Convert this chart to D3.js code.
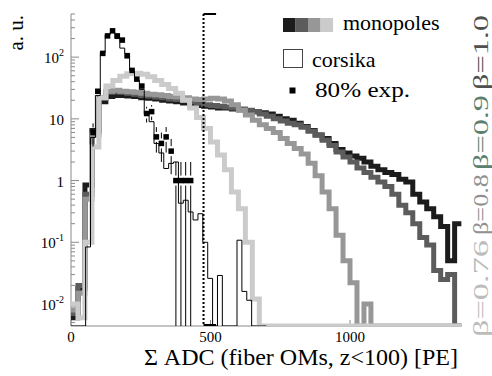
<!DOCTYPE html>
<html>
<head>
<meta charset="utf-8">
<script src="https://cdnjs.cloudflare.com/ajax/libs/d3/7.8.5/d3.min.js"></script>
</head>
<body style="margin:0">
<svg id="chart" width="492" height="376"></svg>
<script>
// monopole histograms, 25 ADC bins from 0 to 1400
var monoBinWidth = 25;
var beta100 = [0.006, 0.018, 0.85, 6.5, 19, 23, 24, 24, 23.5, 23,
  22, 21.5, 21, 20, 19.5, 19, 18, 17.5, 16.5, 16,
  15.5, 15, 15, 14.5, 14, 13.5, 13, 12.5, 12, 11,
  10, 9.5, 8.5, 7.5, 6.5, 5.5, 4.8, 4, 3.2, 2.8,
  2.5, 2.3, 2.0, 1.7, 1.5, 1.35, 1.25, 1.05, 0.95, 0.6,
  0.45, 0.35, 0.26, 0.18, 0.05, 0.2];
var beta090 = [0.007, 0.02, 0.6, 6, 22, 27, 27.5, 27, 26, 25,
  24, 23.5, 22.5, 22, 21, 20.5, 20, 19, 18, 17,
  16.5, 16, 15.5, 15, 14.5, 13.8, 13, 12, 11, 10,
  9.2, 8.5, 8, 7.3, 6.3, 5.5, 4.5, 3.7, 2.9, 2.4,
  2.0, 1.6, 1.35, 1.13, 0.95, 0.8, 0.6, 0.4, 0.3, 0.2,
  0.12, 0.09, 0.035, 0.025, 0.03, 0];
var beta080 = [0.008, 0.015, 0.5, 5.5, 22, 28, 29, 28, 27.5, 27,
  26, 25, 24.5, 24, 23, 22.5, 22, 21, 20.5, 21,
  21.5, 21, 19.5, 17, 13.8, 11.5, 9.5, 8, 7, 6,
  4.8, 4, 3.3, 2.7, 1.9, 1.2, 0.65, 0.35, 0.13, 0.05,
  0.022, 0.004, 0.01, 0, 0, 0, 0, 0, 0, 0,
  0, 0, 0, 0, 0, 0];
var beta076 = [0.01, 0.006, 0.1, 3.5, 22, 34, 42, 49, 54, 55,
  53, 48, 42, 36, 31, 26, 20, 15, 10.5, 7,
  4.2, 2.6, 1.5, 0.65, 0.35, 0.1, 0.012, 0, 0, 0,
  0, 0, 0, 0, 0, 0, 0, 0, 0, 0,
  0, 0, 0, 0, 0, 0, 0, 0, 0, 0,
  0, 0, 0, 0, 0, 0];

// corsika simulation and 80% of experimental data, 17.5 ADC bins
var expBinWidth = 17.5;
var corsika = [0, 0, 0, 0.084, 5, 24, 120, 230, 250, 200,
  140, 115, 60, 42, 30, 12, 9, 4, 2.8, 1.57,
  1.9, 2.0, 0.43, 0.48, 0.31, 0.23, 0.29, 0.10, 0.026, 0,
  0.029, 0, 0, 0, 0.108, 0.016, 0.0115, 0, 0, 0];
var expAdc = [79, 96, 114, 131, 149, 166, 184, 201, 219, 236,
  254, 271, 289, 306, 324, 341, 359, 376, 394, 411, 429];
var expVal = [6.0, 28, 115, 221, 267, 221, 189, 105, 61, 44,
  34, 12.2, 13.1, 5.1, 4.0, 5.1, 3.0, 1, 1, 1, 1];

var cutAdc = 475;

var monoSeries = [beta100, beta090, beta080, beta076];
var monoColors = ["#1c1c1c", "#5c5c5c", "#979797", "#cbcbcb"];
var betaLabels = ["\u03b2=1.0", "\u03b2=0.9", "\u03b2=0.8", "\u03b2=0.76"];
var betaLabelColors = ["#505050", "#5b8070", "#909090", "#bcbcbc"];

var xTickValues = [0, 500, 1000];
var yTickValues = [0.01, 0.1, 1, 10, 100];
var yTickBase = ["10", "10", "1", "10", "10"];
var yTickExp = ["-2", "-1", "", "", "2"];

var serifFont = "'Liberation Serif', serif";

var drawChart = function() {

  var svg = d3.select("#chart");

  var frameLeft = 71, frameRight = 461.6, frameTop = 14, frameBottom = 326;

  var x = d3.scaleLinear().domain([0, 1400]).range([frameLeft, frameRight]);
  var y = d3.scaleLog().domain([0.0044, 500]).range([frameBottom, frameTop]);

  var yc = function(v) {
    // empty bins sit on the bottom of the frame, as ROOT draws them on log axes
    return y(Math.max(v, y.domain()[0]));
  };

  var addText = function(parent) {
    return parent.append("text").style("font-family", serifFont);
  };

  svg.append("clipPath").attr("id", "frame")
    .append("rect")
    .attr("x", frameLeft).attr("y", frameTop)
    .attr("width", frameRight - frameLeft).attr("height", frameBottom - frameTop);

  // axes, ticks only (labels are written by hand below)
  var axisColor = "#8a8a8a";
  var ticks = svg.append("g").attr("stroke", axisColor).attr("fill", "none");

  ticks.append("line")
    .attr("x1", frameLeft).attr("x2", frameLeft)
    .attr("y1", frameTop).attr("y2", frameBottom);
  ticks.append("line")
    .attr("x1", frameLeft).attr("x2", frameRight)
    .attr("y1", frameBottom).attr("y2", frameBottom);

  ticks.selectAll("line.ytick")
    .data(y.ticks())
    .enter().append("line")
    .attr("class", "ytick")
    .attr("x1", frameLeft)
    .attr("x2", function(d) { return frameLeft + (yTickValues.indexOf(d) < 0 ? 4 : 8); })
    .attr("y1", function(d) { return y(d); })
    .attr("y2", function(d) { return y(d); });

  ticks.selectAll("line.xtick")
    .data(xTickValues)
    .enter().append("line")
    .attr("class", "xtick")
    .attr("x1", function(d) { return x(d); })
    .attr("x2", function(d) { return x(d); })
    .attr("y1", frameBottom)
    .attr("y2", frameBottom - 6);

  // y tick labels 10^n
  yTickValues.forEach(function(d, i) {
    var t = addText(svg)
      .attr("x", 64)
      .attr("y", y(d) + 6)
      .attr("text-anchor", "end")
      .attr("font-size", 15);
    t.append("tspan").text(yTickBase[i]);
    if (yTickExp[i]) {
      t.append("tspan").attr("dy", -7).attr("font-size", 10).text(yTickExp[i]);
    }
  });

  xTickValues.forEach(function(d) {
    addText(svg)
      .attr("x", x(d))
      .attr("y", 342)
      .attr("text-anchor", "middle")
      .attr("font-size", 15)
      .text(d);
  });

  // step histograms
  var histPoints = function(values, width) {
    var pts = values.map(function(v, i) { return [i * width, v]; });
    pts.push([values.length * width, values[values.length - 1]]);
    return pts;
  };

  var step = d3.line()
    .x(function(d) { return x(d[0]); })
    .y(function(d) { return yc(d[1]); })
    .curve(d3.curveStepAfter);

  var hists = svg.append("g").attr("clip-path", "url(#frame)");

  monoSeries.forEach(function(s, i) {
    hists.append("path")
      .attr("d", step(histPoints(s, monoBinWidth)))
      .attr("fill", "none")
      .attr("stroke", monoColors[i])
      .attr("stroke-width", 5);
  });

  hists.append("path")
    .attr("d", step(histPoints(corsika, expBinWidth)))
    .attr("fill", "none")
    .attr("stroke", "#000")
    .attr("stroke-width", 1);

  // cut line
  var cut = svg.append("g").attr("stroke", "#000").attr("stroke-width", 2);
  cut.append("line")
    .attr("x1", x(cutAdc)).attr("x2", x(cutAdc))
    .attr("y1", frameTop).attr("y2", frameBottom)
    .attr("stroke-dasharray", "2,2");
  cut.append("line")
    .attr("x1", x(cutAdc)).attr("x2", x(cutAdc + 45))
    .attr("y1", frameTop).attr("y2", frameTop);
  cut.append("line")
    .attr("x1", x(cutAdc)).attr("x2", x(cutAdc + 45))
    .attr("y1", frameBottom - 1).attr("y2", frameBottom - 1);

  // experimental points with sqrt(N) error bars
  var gap = 5, ms = 5.5;
  var marks = svg.append("g").attr("clip-path", "url(#frame)");
  expAdc.forEach(function(a, i) {
    var v = expVal[i], e = Math.sqrt(v);
    var cx = x(a), cy = yc(v);
    var yHi = yc(v + e), yLo = yc(v - e);
    if (yHi < cy - gap) {
      marks.append("line").attr("x1", cx).attr("x2", cx)
        .attr("y1", yHi).attr("y2", cy - gap)
        .attr("stroke", "#000").attr("stroke-width", 1);
    }
    if (yLo > cy + gap) {
      marks.append("line").attr("x1", cx).attr("x2", cx)
        .attr("y1", cy + gap).attr("y2", yLo)
        .attr("stroke", "#000").attr("stroke-width", 1);
    }
    marks.append("rect")
      .attr("x", cx - ms / 2).attr("y", cy - ms / 2)
      .attr("width", ms).attr("height", ms)
      .attr("fill", "#000");
  });

  // legend
  var legend = svg.append("g");
  legend.selectAll("rect.mono")
    .data(monoColors)
    .enter().append("rect")
    .attr("class", "mono")
    .attr("x", function(d, i) { return 283 + i * 12.5; })
    .attr("y", 18)
    .attr("width", 12.6).attr("height", 14)
    .attr("fill", function(d) { return d; });
  addText(legend).attr("x", 343).attr("y", 30).attr("font-size", 22)
    .text("monopoles");

  legend.append("rect")
    .attr("x", 283.5).attr("y", 49.5).attr("width", 19).attr("height", 18)
    .attr("fill", "#fff").attr("stroke", "#444").attr("stroke-width", 1);
  addText(legend).attr("x", 312).attr("y", 67).attr("font-size", 22)
    .text("corsika");

  legend.append("rect")
    .attr("x", 289.5).attr("y", 87.5).attr("width", 6).attr("height", 6)
    .attr("fill", "#000");
  addText(legend).attr("x", 315).attr("y", 97).attr("font-size", 22)
    .attr("textLength", 95).attr("lengthAdjust", "spacingAndGlyphs")
    .text("80% exp.");

  // beta labels on the right, reading upward
  var betaSpans = [[15, 90], [95, 170], [174, 235], [240, 337]];
  betaLabels.forEach(function(t, i) {
    var s = betaSpans[i];
    addText(svg)
      .attr("transform", "translate(488," + s[1] + ") rotate(-90)")
      .attr("font-size", 22)
      .attr("fill", betaLabelColors[i])
      .attr("textLength", s[1] - s[0])
      .attr("lengthAdjust", "spacingAndGlyphs")
      .text(t);
  });

  // axis titles
  addText(svg)
    .attr("transform", "translate(23,15) rotate(-90)")
    .attr("text-anchor", "end")
    .attr("font-size", 21)
    .text("a. u.");

  addText(svg)
    .attr("x", 458).attr("y", 365)
    .attr("text-anchor", "end")
    .attr("font-size", 24)
    .text("\u03a3 ADC (fiber OMs, z<100) [PE]");
};

drawChart();
</script>
</body>
</html>
